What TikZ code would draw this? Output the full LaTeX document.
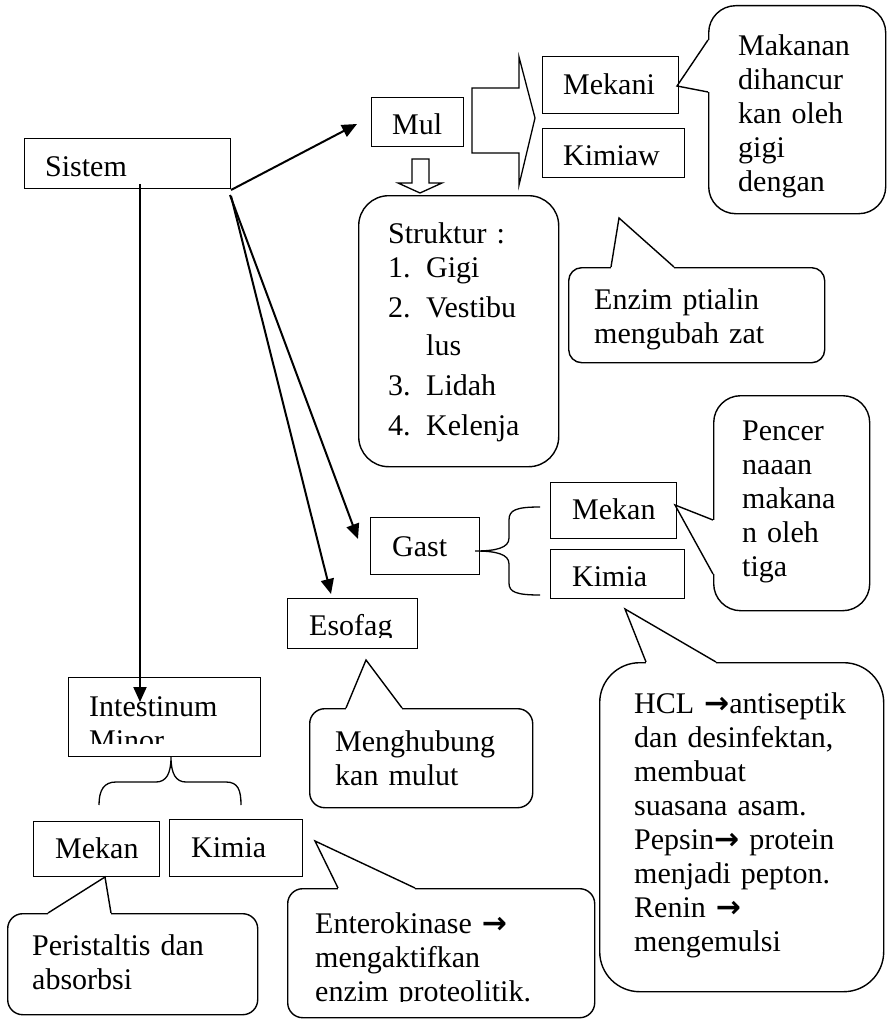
\documentclass[tikz,border=0pt]{standalone}
\usepackage{fontspec}
\setmainfont{Liberation Serif}
\newfontfamily\arrowfont{DejaVu Sans}
\newcommand{\rarr}{{\arrowfont\bfseries →}}
\usetikzlibrary{arrows.meta}
\begin{document}
\begin{tikzpicture}[x=1pt,y=-1pt,
  box/.style={draw, line width=1.3pt, inner sep=0pt, anchor=north west},
  bub/.style={draw, line width=1.4pt, inner sep=0pt, anchor=north west},
  ptr/.style={line width=1.4pt, line join=miter},
  txt/.style={anchor=base west, inner sep=0pt, align=left, font=\fontsize{30pt}{34pt}\selectfont},
  arr/.style={line width=2pt, -{Triangle[length=15pt,width=13pt]}},
  brc/.style={line width=1.3pt},
  erase/.style={fill=white, draw=none}
]
\fill[white] (0,0) rectangle (887,1019);
\useasboundingbox (0,0) rectangle (887,1019);

% ---------- plain boxes ----------
\node[box, minimum width=206pt, minimum height=50pt] (sistem) at (24,138) {};
\node[box, minimum width=92pt,  minimum height=49pt] (mul) at (371,97) {};
\node[box, minimum width=136pt, minimum height=57pt] (mekani) at (542,56) {};
\node[box, minimum width=142pt, minimum height=49pt] (kimiaw) at (542,128) {};
\node[box, minimum width=109pt, minimum height=57pt] (gast) at (370,517) {};
\node[box, minimum width=126pt, minimum height=56pt] (mekan2) at (550,482) {};
\node[box, minimum width=134pt, minimum height=49pt] (kimia2) at (550,549) {};
\node[box, minimum width=130pt, minimum height=50pt] (esofag) at (287,598) {};
\node[box, minimum width=192pt, minimum height=79pt] (intest) at (68,677) {};
\node[box, minimum width=126pt, minimum height=55pt] (mekan3) at (33,821) {};
\node[box, minimum width=133pt, minimum height=57pt] (kimia3) at (169,819) {};

% ---------- rounded boxes / callouts ----------
\node[bub, rounded corners=30pt, minimum width=200pt, minimum height=271pt] (struk) at (358,195) {};

\node[bub, rounded corners=27pt, minimum width=177pt, minimum height=208pt] (makbox) at (708,5) {};
\fill[erase] (706.3,40) rectangle (709.7,92);
\draw[ptr] (708,40) -- (677,86) -- (708,92);

\node[bub, rounded corners=13pt, minimum width=256pt, minimum height=95pt] (enzbox) at (568,267) {};
\fill[erase] (611,265.3) rectangle (674,268.7);
\draw[ptr] (611,267) -- (619,218) -- (674,267);

\node[bub, rounded corners=27pt, minimum width=156pt, minimum height=215pt] (penbox) at (713,395) {};
\fill[erase] (711.3,520) rectangle (714.7,574);
\draw[ptr] (713,520) -- (675,505) -- (713,574);

\node[bub, rounded corners=40pt, minimum width=284pt, minimum height=329pt] (hclbox) at (599,662) {};
\fill[erase] (646,660.3) rectangle (716,663.7);
\draw[ptr] (646,662) -- (625,609) -- (716,662);

\node[bub, rounded corners=15pt, minimum width=223pt, minimum height=99pt] (menbox) at (309,708) {};
\fill[erase] (346,706.3) rectangle (402,709.7);
\draw[ptr] (346,708) -- (366,660) -- (402,708);

\node[bub, rounded corners=15pt, minimum width=307pt, minimum height=129pt] (entbox) at (287,888) {};
\fill[erase] (338,886.3) rectangle (415,889.7);
\draw[ptr] (338,888) -- (315,841) -- (415,888);

\node[bub, rounded corners=15pt, minimum width=250pt, minimum height=101pt] (perbox) at (7,913) {};
\fill[erase] (48,911.3) rectangle (111,914.7);
\draw[ptr] (48,913) -- (105,877) -- (111,913);

% ---------- block arrows ----------
\draw[line width=1.3pt, line join=miter] (472,88) -- (519,88) -- (519,57) -- (535,118) -- (519,185) -- (519,153) -- (472,153) -- cycle;
\draw[line width=1.3pt, line join=miter] (412,159) -- (429,159) -- (429,183) -- (442,183) -- (420,193) -- (398,183) -- (412,183) -- cycle;

% ---------- braces ----------
\draw[brc] (540,507) .. controls (516,507) and (509,510) .. (509,520) -- (509,538)
  .. controls (509,548) and (496,551) .. (475,551)
  .. controls (496,551) and (509,554) .. (509,564) -- (509,583)
  .. controls (509,592) and (516,595) .. (540,595);
\draw[brc] (99,805) .. controls (99,790) and (104,782) .. (116,782) -- (156,782)
  .. controls (166,782) and (171,774) .. (171,757)
  .. controls (171,774) and (176,782) .. (186,782) -- (226,782)
  .. controls (238,782) and (241,790) .. (241,805);

% ---------- connectors ----------
\coordinate (sA) at (231,190);
\coordinate (sB) at (230,195);
\coordinate (sC) at (231,196);
\coordinate (sD) at (140,184);
\coordinate (tMul) at (357,124);
\coordinate (tGast) at (358,539);
\coordinate (tEso) at (331,594);
\coordinate (tInt) at (140,702);
\draw[arr] (sA) -- (tMul);
\draw[arr] (sB) -- (tGast);
\draw[arr] (sC) -- (tEso);
\draw[arr] (sD) -- (tInt);

% ---------- texts ----------
\node[txt] (tsistem) at (45,177) {Sistem};
\node[txt] (tmul) at (392,135) {Mul};
\node[txt] (tmekani) at (563,95) {Mekani};
\node[txt] (tkimiaw) at (563,166) {Kimiaw};
\node[txt, text width=150pt] (tmak) at (738,56) {Makanan\\dihancur\\kan oleh\\gigi\\dengan};
\node[txt, text width=170pt] (tstruk) at (388,243) {Struktur :\\
  \makebox[38pt][l]{1.}Gigi\\[6pt]
  \makebox[38pt][l]{2.}Vestibu\\[4pt]
  \hspace*{38pt}lus\\[6pt]
  \makebox[38pt][l]{3.}Lidah\\[6pt]
  \makebox[38pt][l]{4.}Kelenja};
\node[txt, text width=230pt] (tenz) at (594,309) {Enzim ptialin\\mengubah zat};
\node[txt, text width=125pt] (tpen) at (742,440) {Pencer\\naaan\\makana\\n oleh\\tiga};
\node[txt] (tgast) at (392,556) {Gast};
\node[txt] (tmekan2) at (572,519) {Mekan};
\node[txt] (tkimia2) at (572,586) {Kimia};
\begin{scope}
  \clip (287,598) rectangle (417,637);
  \node[txt] (teso) at (309,635) {Esofag};
\end{scope}
\node[txt, text width=200pt] (tmen) at (335,751) {Menghubung\\kan mulut};
\node[txt, text width=245pt] (thcl) at (634,713) {HCL \rarr antiseptik\\dan desinfektan,\\membuat\\suasana asam.\\Pepsin\rarr{} protein\\menjadi pepton.\\Renin \rarr\\mengemulsi};
\begin{scope}
  \clip (68,677) rectangle (260,743);
  \node[txt, text width=170pt] (tint) at (89,716) {Intestinum\\Minor};
\end{scope}
\node[txt] (tmekan3) at (55,858) {Mekan};
\node[txt] (tkimia3) at (191,857) {Kimia};
\node[txt, text width=230pt] (tper) at (32,955) {Peristaltis dan\\absorbsi};
\begin{scope}
  \clip (287,888) rectangle (594,1001);
  \node[txt, text width=280pt] (tent) at (315,933) {Enterokinase \rarr\\mengaktifkan\\enzim proteolitik.};
\end{scope}
\end{tikzpicture}
\end{document}
